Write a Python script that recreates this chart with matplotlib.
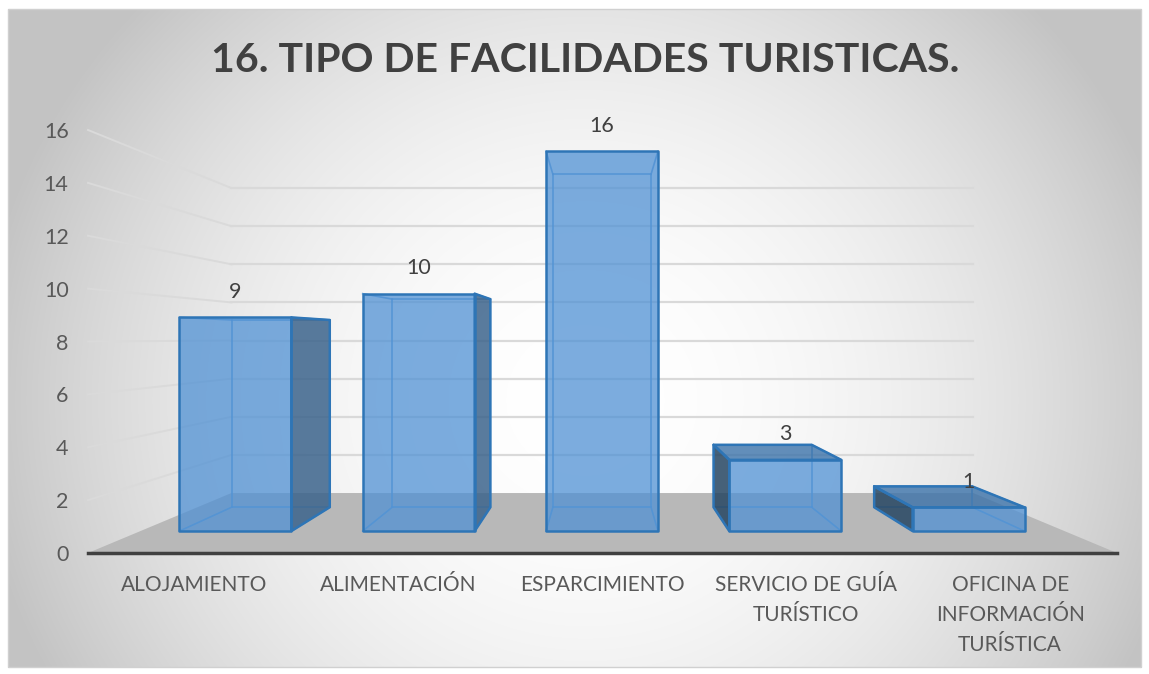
import numpy as np
import matplotlib.pyplot as plt
from matplotlib.patches import Polygon, Rectangle

# ---- data ----
categories = ["ALOJAMIENTO", "ALIMENTACIÓN", "ESPARCIMIENTO",
              "SERVICIO DE GUÍA\nTURÍSTICO", "OFICINA DE\nINFORMACIÓN\nTURÍSTICA"]
values = [9, 10, 16, 3, 1]
y_ticks = [0, 2, 4, 6, 8, 10, 12, 14, 16]
title = "16. TIPO DE FACILIDADES TURISTICAS."

plt.rcParams['font.family'] = ['Lato', 'DejaVu Sans']

W, H = 1149, 674
fig = plt.figure(figsize=(W / 100, H / 100), dpi=100)

# ---- background (radial gradient inside chart frame) ----
bg = fig.add_axes([0, 0, 1, 1])
bg.set_xlim(0, W)
bg.set_ylim(H, 0)
bg.axis('off')
yy, xx = np.mgrid[0:H, 0:W]
d2 = (xx - 585.0) ** 2 + ((yy - 400.0) * 1.05) ** 2
shade = 255 - np.minimum(60, 1.6e-4 * d2)
outside = (xx < 8) | (xx > 1141) | (yy < 9) | (yy > 667)
shade[outside] = 255
img = np.dstack([shade] * 3) / 255.0
bg.imshow(img, extent=(0, W, H, 0), aspect='auto', zorder=0, interpolation='bilinear')
bg.add_patch(Rectangle((8, 9), 1133, 658, fill=False, ec='#d0d0d0', lw=1))

# ---- main axes (front floor plane) ----
ax = fig.add_axes([88 / W, (H - 553) / H, (1117 - 88) / W, (553 - 130) / H])
XL, XR = -19.44, 19.48
ax.set_xlim(XL, XR)
ax.set_ylim(0, 16)
ax.patch.set_alpha(0)

K = 8.13      # eye height (value units)
RW = 0.721    # back wall depth ratio
RF = 0.898    # bar front depth ratio
RB = 0.787    # bar back depth ratio
SP = 7.72     # category spacing
BW = 2.358    # bar half width


def P(X, h, r):
    return (X * r, K + (h - K) * r)


# floor
floor = Polygon([P(XL, 0, 1), P(XR, 0, 1), P(XR, 0, RW), P(XL, 0, RW)],
                closed=True, fc='#b8b8b8', ec='none', zorder=1, clip_on=False)
ax.add_patch(floor)

# gridlines on left wall and back wall
for v in y_ticks[1:]:
    a = P(XL, v, 1)
    b = P(XL, v, RW)
    c = P(XR, v, RW)
    ax.plot([a[0], b[0]], [a[1], b[1]], color='#dadada', lw=1.4, zorder=0.8, clip_on=False)
    ax.plot([b[0], c[0]], [b[1], c[1]], color='#d9d9d9', lw=1.6, zorder=0.8, clip_on=False)

edge_col = '#2e75b6'
hidden_col = '#5b9bd5'
centers = [(i - 2) * SP for i in range(len(values))]

for c, v in zip(centers, values):
    x0, x1 = c - BW, c + BW
    FBL, FBR, FTL, FTR = P(x0, 0, RF), P(x1, 0, RF), P(x0, v, RF), P(x1, v, RF)
    BBL, BBR, BTL, BTR = P(x0, 0, RB), P(x1, 0, RB), P(x0, v, RB), P(x1, v, RB)
    # hidden (back) edges
    for p, q in [(BBL, BBR), (BBR, BTR), (BTR, BTL), (BTL, BBL),
                 (FBL, BBL), (FBR, BBR), (FTL, BTL), (FTR, BTR)]:
        ax.plot([p[0], q[0]], [p[1], q[1]], color=hidden_col, lw=1.2, alpha=0.9,
                zorder=3, clip_on=False)
    faces = []
    if x1 < 0:
        faces.append(([FBR, BBR, BTR, FTR], (60 / 255, 100 / 255, 140 / 255), 0.85))
    if x0 > 0:
        faces.append(([FBL, BBL, BTL, FTL], (38 / 255, 70 / 255, 98 / 255), 0.85))
    if v < K:
        faces.append(([FTL, FTR, BTR, BTL], (60 / 255, 115 / 255, 170 / 255), 0.8))
    faces.append(([FBL, FBR, FTR, FTL], (80 / 255, 145 / 255, 212 / 255), 0.75))
    for pts, col, al in faces:
        ax.add_patch(Polygon(pts, closed=True, fc=col, alpha=al, ec='none',
                             zorder=4, clip_on=False))
    for pts, col, al in faces:
        ax.add_patch(Polygon(pts, closed=True, fill=False, ec=edge_col, lw=1.8,
                             joinstyle='round', zorder=5, clip_on=False))
    top_front = P(c, v, RF)
    ax.annotate(str(v), xy=top_front, xytext=(0, 18.5), textcoords='offset points',
                ha='center', va='center', fontsize=15.5, color='#404040', zorder=6,
                annotation_clip=False)

# axes styling
for s in ['left', 'top', 'right']:
    ax.spines[s].set_visible(False)
ax.spines['bottom'].set_color('#404040')
ax.spines['bottom'].set_linewidth(2.5)
ax.spines['bottom'].set_zorder(2)
ax.set_yticks(y_ticks)
ax.set_yticklabels([str(t) for t in y_ticks])
ax.tick_params(axis='y', length=0, pad=14, labelsize=15.5, labelcolor='#595959')
ax.set_xticks(centers)
ax.set_xticklabels(categories, linespacing=1.62)
ax.tick_params(axis='x', length=0, pad=16, labelsize=15, labelcolor='#595959')

fig.text(585 / W, 1 - 61 / H, title, ha='center', va='center', fontsize=29.5,
         fontweight='bold', color='#404040')

fig.savefig('out.png', dpi=100)
